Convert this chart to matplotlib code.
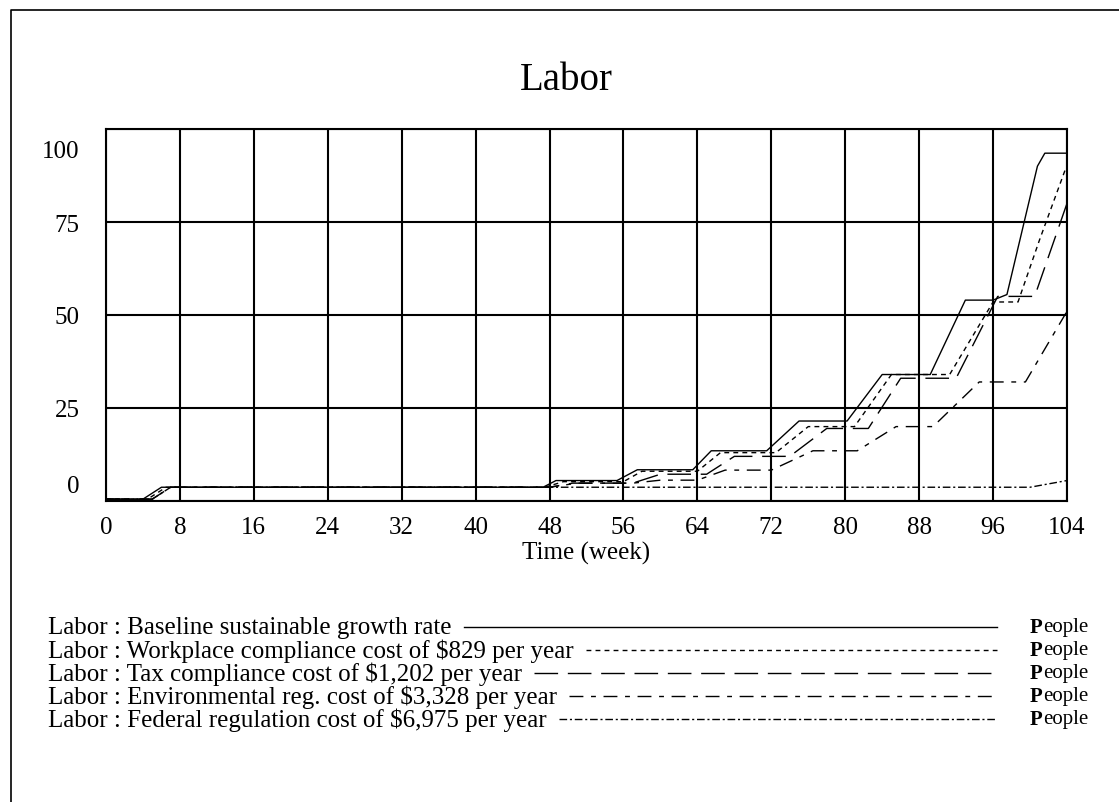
import numpy as np
import matplotlib.pyplot as plt
from matplotlib.transforms import ScaledTranslation

# Labor (People) over Time (week)
t_base = [0, 4, 6, 47.3, 48.7, 55.3, 57.5, 63.5, 65.5, 71.5, 75, 80.2, 84, 89.2, 93, 96, 97.5, 100.8, 101.6, 104]
labor_base = [0.5, 0.5, 3.7, 3.7, 5.5, 5.5, 8.4, 8.4, 13.5, 13.5, 21.5, 21.5, 34, 34, 54, 54, 55.5, 90, 93.5, 93.5]

t_work = [0, 4.5, 6.5, 47.5, 49.5, 56, 58, 64, 66.5, 72.5, 76, 81, 85, 91.3, 96, 98.7, 101, 103.8, 104]
labor_work = [0.5, 0.5, 3.7, 3.7, 5.2, 5.2, 8, 8, 13, 13, 20, 20, 34, 34, 53.5, 53.5, 70, 89, 89.5]

t_tax = [0, 5, 7, 48, 50.5, 57, 60, 65, 68, 74, 78, 82.5, 86, 92, 96.5, 100.5, 104]
labor_tax = [0.5, 0.5, 3.7, 3.7, 4.8, 4.8, 7.2, 7.2, 12, 12, 19.5, 19.5, 33, 33, 55, 55, 80]

t_env = [0, 5, 7, 48, 51, 57, 60, 64, 67, 72, 76.5, 81.3, 85.5, 89.5, 94.5, 99.5, 104]
labor_env = [0.5, 0.5, 3.7, 3.7, 4.8, 4.8, 5.6, 5.6, 8.3, 8.3, 13.5, 13.5, 20, 20, 32, 32, 51]

t_fed = [0, 5, 7, 100, 104]
labor_fed = [0.5, 0.5, 3.7, 3.7, 5.5]

names = ["Labor : Baseline sustainable growth rate",
         "Labor : Workplace compliance cost of $829 per year",
         "Labor : Tax compliance cost of $1,202 per year",
         "Labor : Environmental reg. cost of $3,328 per year",
         "Labor : Federal regulation cost of $6,975 per year"]
units = "People"

x_ticks = list(range(0, 105, 8))
y_ticks = [0, 25, 50, 75, 100]

dashes = ['-', (0, (3.5, 3)), (0, (17, 7)), (0, (10, 5.5, 3.5, 5.5)), (0, (5.5, 2, 1.5, 2))]
data = [(t_base, labor_base), (t_work, labor_work), (t_tax, labor_tax),
        (t_env, labor_env), (t_fed, labor_fed)]

plt.rcParams['font.family'] = ['Liberation Serif', 'DejaVu Serif']
plt.rcParams['mathtext.default'] = 'regular'

W, H = 1119, 803
fig = plt.figure(figsize=(W / 100, H / 100), dpi=100)

# outer frame (only left/top visible in the reference)
frame = fig.add_axes([0, 0, 1, 1])
frame.set_xlim(0, W)
frame.set_ylim(H, 0)
frame.axis('off')
frame.plot([11, 11, W + 5], [H + 5, 11, 11], color='black', lw=1.2)

ax = fig.add_axes([106 / W, 1 - 502 / H, (1067 - 106) / W, (502 - 130) / H])
for (t, v), ls in zip(data, dashes):
    ax.plot(t, v, color='black', lw=1.0, linestyle=ls)

ax.set_xlim(0, 104)
ax.set_ylim(0, 100)
ax.set_xticks(x_ticks)
ax.set_yticks(y_ticks)
ax.grid(True, color='black', lw=1.5)
ax.set_axisbelow(True)
for s in ax.spines.values():
    s.set_linewidth(1.5)
ax.tick_params(length=0, labelsize=18, pad=11)
ax.tick_params(axis='y', pad=19)

# Vensim nudges the end labels inside the axis range
ylabels = ax.get_yticklabels()
ylabels[0].set_transform(ylabels[0].get_transform() + ScaledTranslation(0, 0.17, fig.dpi_scale_trans))
ylabels[-1].set_transform(ylabels[-1].get_transform() + ScaledTranslation(0, -0.19, fig.dpi_scale_trans))

ax.set_xlabel("Time (week)", fontsize=18, labelpad=2)
fig.text(566 / W, 1 - 81 / H, "Labor", fontsize=28, ha='center', va='center')

# legend block
fig.canvas.draw()
r = fig.canvas.get_renderer()
rows = [628, 651, 674, 697, 720]
for name, ls, y in zip(names, dashes, rows):
    txt = frame.text(48, y, name.replace('$', r'\$'), fontsize=18, va='center', ha='left')
    bb = txt.get_window_extent(renderer=r)
    x_end = bb.x1 + 12
    frame.plot([x_end, 997], [y, y], color='black', lw=1.0, linestyle=ls)
    p = frame.text(1030, y, units[0], fontsize=15, fontweight='bold', va='center', ha='left')
    pb = p.get_window_extent(renderer=r)
    frame.text(pb.x1, y, units[1:], fontsize=15, va='center', ha='left')

fig.savefig('out.png', dpi=100)
